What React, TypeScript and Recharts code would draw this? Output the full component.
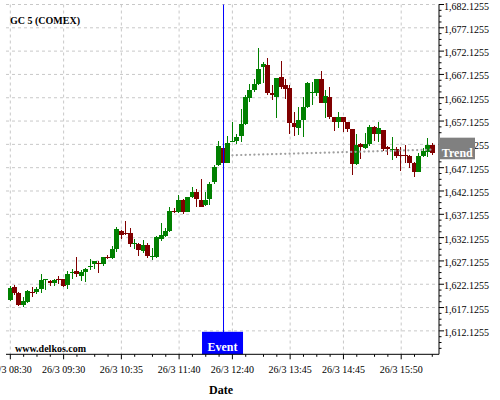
import React from "react";
import {
    ComposedChart,
    Bar,
    Line,
    XAxis,
    YAxis,
    CartesianGrid,
    ReferenceLine,
} from "recharts";

const FONT = "'Liberation Serif', 'Times New Roman', serif";
const UP = "#008000";
const DOWN = "#800000";

// 5 minute candles, 26/3
const TIMES = [
    "08:30", "08:35", "08:40", "08:45", "08:50", "08:55", "09:00", "09:05", "09:10", "09:15", "09:20", "09:25",
    "09:30", "09:35", "09:40", "09:45", "09:50", "09:55", "10:00", "10:05", "10:10", "10:15", "10:20", "10:25",
    "10:30", "10:35", "10:40", "10:45", "10:50", "10:55", "11:00", "11:05", "11:10", "11:15", "11:20", "11:25",
    "11:30", "11:35", "11:40", "11:45", "11:50", "11:55", "12:00", "12:05", "12:10", "12:15", "12:20", "12:25",
    "12:30", "12:35", "12:40", "12:45", "12:50", "12:55", "13:00", "13:05", "13:10", "13:15", "13:20", "13:25",
    "13:30", "13:35", "13:40", "13:45", "13:50", "13:55", "14:00", "14:05", "14:10", "14:15", "14:20", "14:25",
    "14:30", "14:35", "14:40", "14:45", "14:50", "14:55", "15:00", "15:05", "15:10", "15:15", "15:20", "15:25",
    "15:30", "15:35", "15:40", "15:45", "15:50", "15:55", "16:00", "16:05", "16:10", "16:15", "16:20", "16:25",
];

const OPEN = [
    1618.77, 1621.56, 1620.27, 1617.76, 1618.34, 1620.49, 1620.49, 1621.19, 1623.06, 1622.84, 1622.48, 1623.34,
    1623.21, 1622.05, 1624.71, 1624.99, 1623.98, 1624.77, 1625.91, 1626.55, 1626.77, 1626.55, 1627.99, 1627.78,
    1629.70, 1633.56, 1633.20, 1633.14, 1630.84, 1630.78, 1629.34, 1630.56, 1628.05, 1628.05, 1631.78, 1632.56,
    1633.56, 1637.79, 1637.70, 1640.21, 1637.70, 1640.85, 1641.93, 1640.21, 1639.20, 1640.42, 1644.13, 1647.78,
    1651.36, 1648.21, 1652.80, 1652.80, 1653.93, 1656.57, 1662.14, 1663.79, 1665.14, 1668.66, 1669.15, 1663.15,
    1662.36, 1666.58, 1664.87, 1664.16, 1656.65, 1655.71, 1657.36, 1660.21, 1663.22, 1663.09, 1666.15, 1661.07,
    1662.36, 1658.07, 1656.87, 1658.07, 1656.93, 1655.43, 1647.93, 1652.22, 1651.42, 1652.15, 1655.80, 1654.36,
    1655.22, 1651.51, 1650.93, 1651.14, 1649.86, 1649.79, 1649.64, 1648.21, 1646.28, 1649.64, 1650.57, 1652.00,
];

const HIGH = [
    1621.84, 1622.05, 1620.40, 1619.35, 1620.85, 1621.62, 1621.62, 1624.28, 1623.27, 1623.06, 1623.34, 1623.92,
    1623.34, 1624.92, 1625.35, 1627.92, 1625.20, 1625.57, 1627.50, 1627.13, 1627.20, 1627.99, 1628.42, 1630.35,
    1634.42, 1633.84, 1635.64, 1634.14, 1631.78, 1631.06, 1631.57, 1630.93, 1629.85, 1632.49, 1635.34, 1634.14,
    1638.77, 1638.43, 1641.22, 1640.36, 1640.85, 1643.00, 1642.50, 1644.65, 1641.93, 1644.13, 1647.71, 1652.86,
    1651.79, 1653.98, 1656.98, 1654.30, 1659.66, 1662.72, 1665.08, 1666.15, 1672.73, 1669.80, 1670.59, 1664.80,
    1666.43, 1670.01, 1666.09, 1664.93, 1659.14, 1660.21, 1662.36, 1665.44, 1665.57, 1666.15, 1667.93, 1663.79,
    1664.37, 1658.07, 1659.01, 1658.07, 1657.00, 1655.43, 1654.30, 1652.49, 1654.64, 1656.29, 1656.14, 1656.93,
    1655.22, 1651.79, 1653.78, 1651.64, 1651.64, 1652.00, 1649.86, 1648.42, 1650.35, 1651.42, 1653.44, 1652.49,
];

const LOW = [
    1618.56, 1619.84, 1617.55, 1617.20, 1618.19, 1619.35, 1619.99, 1620.21, 1620.91, 1621.77, 1621.77, 1622.14,
    1621.62, 1621.13, 1623.21, 1623.64, 1622.78, 1622.57, 1625.14, 1625.35, 1624.49, 1626.12, 1627.56, 1627.56,
    1629.00, 1631.85, 1632.77, 1630.07, 1629.64, 1628.14, 1628.78, 1627.71, 1627.35, 1627.71, 1631.48, 1632.34,
    1633.35, 1637.36, 1637.36, 1637.14, 1637.64, 1640.57, 1638.77, 1638.77, 1638.99, 1639.20, 1643.64, 1647.50,
    1648.14, 1648.08, 1652.58, 1652.22, 1652.65, 1656.23, 1661.29, 1663.43, 1664.93, 1665.36, 1662.72, 1661.59,
    1657.73, 1664.07, 1661.93, 1654.36, 1653.93, 1654.15, 1653.65, 1660.00, 1660.58, 1662.51, 1660.94, 1657.73,
    1657.64, 1655.07, 1655.58, 1654.85, 1654.79, 1645.51, 1647.78, 1648.94, 1651.08, 1651.85, 1652.92, 1652.65,
    1650.78, 1649.86, 1648.79, 1649.28, 1646.43, 1648.08, 1647.01, 1645.08, 1646.15, 1649.36, 1649.36, 1649.86,
];

const CLOSE = [
    1621.41, 1620.27, 1617.76, 1618.56, 1620.70, 1620.34, 1621.13, 1623.06, 1623.27, 1622.48, 1623.06, 1623.21,
    1621.84, 1624.34, 1624.84, 1624.41, 1624.77, 1625.42, 1626.06, 1627.13, 1626.64, 1627.99, 1627.84, 1629.70,
    1633.99, 1632.77, 1632.92, 1630.84, 1630.99, 1629.55, 1630.56, 1628.27, 1628.27, 1632.28, 1632.64, 1633.63,
    1637.85, 1637.57, 1640.21, 1637.70, 1640.85, 1641.93, 1640.36, 1638.77, 1640.27, 1643.64, 1647.29, 1651.79,
    1648.21, 1652.37, 1652.92, 1653.72, 1656.57, 1662.29, 1663.79, 1665.08, 1668.23, 1669.37, 1663.22, 1662.66,
    1666.30, 1664.50, 1663.94, 1656.65, 1655.75, 1657.36, 1660.21, 1665.23, 1663.37, 1666.15, 1661.07, 1662.51,
    1658.07, 1656.87, 1657.94, 1656.93, 1655.43, 1647.93, 1652.00, 1651.51, 1652.22, 1655.80, 1654.36, 1655.58,
    1651.08, 1651.08, 1651.08, 1649.71, 1649.71, 1649.64, 1648.21, 1646.28, 1649.64, 1650.72, 1652.00, 1650.35,
];

const X_MAJOR = ["08:30", "09:30", "10:35", "11:40", "12:40", "13:45", "14:45", "15:50"];
const Y_MAJOR = [
    1612.1255, 1617.1255, 1622.1255, 1627.1255, 1632.1255, 1637.1255, 1642.1255, 1647.1255,
    1652.1255, 1657.1255, 1662.1255, 1667.1255, 1672.1255, 1677.1255, 1682.1255,
];
const Y_DOMAIN = [1607.1, 1682.1255];

const EVENT_TIME = "12:30";
const TREND_START = "12:40";
const TREND_END = "16:25";
const TREND_FROM = 1649.79;
const TREND_TO = 1650.99;

// minor ticks: 4 steps between the labelled ones
const majorIdx = X_MAJOR.map((t) => TIMES.indexOf(t));
const xTickIdx: number[] = [];
majorIdx.forEach((a, k) => {
    const b = k < majorIdx.length - 1 ? majorIdx[k + 1] : a + 13;
    for (let s = 0; s < 4; s++) {
        const i = a + Math.round(((b - a) * s) / 4);
        if (i < TIMES.length) xTickIdx.push(i);
    }
});
const X_TICKS = xTickIdx.map((i) => TIMES[i]);
const Y_TICKS = Y_MAJOR.flatMap((m) => [m - 3.75, m - 2.5, m - 1.25, m]).filter((v) => v >= Y_DOMAIN[0]);

const data = TIMES.map((t, i) => ({
    t,
    o: OPEN[i],
    h: HIGH[i],
    l: LOW[i],
    c: CLOSE[i],
    tr: t === TREND_START ? TREND_FROM : t === TREND_END ? TREND_TO : null,
}));

const fmt = (v: number) =>
    v.toLocaleString("en-US", { minimumFractionDigits: 4, maximumFractionDigits: 4 });

function Candle(props: any) {
    const { x, y, width, height, payload } = props;
    const { o, h, l, c } = payload;
    const k = h > l ? height / (h - l) : 0;
    const py = (v: number) => y + (h - v) * k;
    const color = c >= o ? UP : DOWN;
    const left = Math.round(x + width / 2 - 2.5);
    const top = Math.round(py(Math.max(o, c)));
    const bot = Math.max(top + 1, Math.round(py(Math.min(o, c))));
    return (
        <g>
            <line x1={left + 2.5} x2={left + 2.5} y1={Math.round(y)} y2={Math.round(y + height)} stroke={color} />
            <rect x={left} y={top} width={5} height={bot - top} fill={color} />
        </g>
    );
}

function XTick(props: any) {
    const { x, y, payload } = props;
    const major = X_MAJOR.includes(payload.value);
    return (
        <g>
            <line x1={x} x2={x} y1={y - 5} y2={major ? y : y - 2.5} stroke="#000" />
            {major && (
                <text x={x} y={y + 14} textAnchor="middle" fontSize={10} fontFamily={FONT} fill="#000">
                    {"26/3 " + payload.value}
                </text>
            )}
        </g>
    );
}

function YTick(props: any) {
    const { x, y, payload } = props;
    const major = Y_MAJOR.some((m) => Math.abs(m - payload.value) < 1e-6);
    return (
        <g>
            <line x1={x - 5} x2={major ? x : x - 2.5} y1={y} y2={y} stroke="#000" />
            {major && (
                <text x={x} y={y + 5} textAnchor="start" fontSize={10} fontFamily={FONT} fill="#000">
                    {fmt(payload.value)}
                </text>
            )}
        </g>
    );
}

function EventLabel(props: any) {
    const vb = props.viewBox;
    const cx = vb.x - 1;
    const bottom = vb.y + vb.height;
    return (
        <g>
            <rect x={cx - 20.5} y={bottom - 22.5} width={41} height={22.5} fill="#0000ff" />
            <text x={cx} y={bottom - 3} textAnchor="middle" fill="#fff" fontWeight="bold" fontSize={12} fontFamily={FONT}>
                Event
            </text>
        </g>
    );
}

function TrendLabel(props: any) {
    const { x, y, width } = props.viewBox;
    const left = x + width;
    return (
        <g>
            <rect x={left} y={y - 12} width={36} height={21.6} fill="#808080" />
            <text x={left + 18.3} y={y + 7.6} textAnchor="middle" fill="#fff" fontWeight="bold" fontSize={12} fontFamily={FONT}>
                Trend
            </text>
        </g>
    );
}

export default function App() {
    return (
        <div style={{ position: "absolute", left: 0, top: 0, width: 500, height: 400, background: "#fff" }}>
            <ComposedChart
                width={500}
                height={400}
                data={data}
                margin={{ top: 4.5, right: 0, bottom: 15.7, left: 6 }}
            >
                <CartesianGrid
                    stroke="#c8c8c8"
                    strokeDasharray="3 3"
                    horizontalValues={Y_MAJOR}
                    verticalValues={X_MAJOR}
                />
                <XAxis
                    dataKey="t"
                    ticks={X_TICKS}
                    interval={0}
                    tick={<XTick />}
                    tickLine={false}
                    tickSize={5}
                    tickMargin={0}
                    height={30}
                    padding={{ left: 2.1, right: 4.5 }}
                    axisLine={{ stroke: "#000" }}
                />
                <YAxis
                    orientation="right"
                    type="number"
                    domain={Y_DOMAIN}
                    allowDataOverflow
                    ticks={Y_TICKS}
                    interval={0}
                    tick={<YTick />}
                    tickLine={false}
                    tickSize={5}
                    tickMargin={0}
                    width={61}
                    axisLine={{ stroke: "#000" }}
                />
                <Bar dataKey={(d: any) => [d.l, d.h]} shape={<Candle />} barSize={4} isAnimationActive={false} />
                <Line
                    dataKey="tr"
                    connectNulls
                    dot={false}
                    stroke="#a0a0a0"
                    strokeWidth={2.2}
                    strokeDasharray="0.1 4.3"
                    strokeLinecap="round"
                    isAnimationActive={false}
                />
                <ReferenceLine x={EVENT_TIME} stroke="#0000ff" ifOverflow="visible" label={<EventLabel />} />
                <ReferenceLine
                    y={TREND_TO}
                    stroke="none"
                    ifOverflow="visible"
                    zIndex={3000}
                    label={<TrendLabel zIndex={3000} />}
                />
            </ComposedChart>
            <svg
                width={500}
                height={400}
                style={{ position: "absolute", left: 0, top: 0, pointerEvents: "none" }}
                fontFamily={FONT}
                fontWeight="bold"
            >
                <text x={10} y={24.3} fontSize={10}>GC 5 (COMEX)</text>
                <text x={15} y={351.7} fontSize={10}>www.delkos.com</text>
                <text x={221} y={394} fontSize={12} textAnchor="middle">Date</text>
            </svg>
        </div>
    );
}
